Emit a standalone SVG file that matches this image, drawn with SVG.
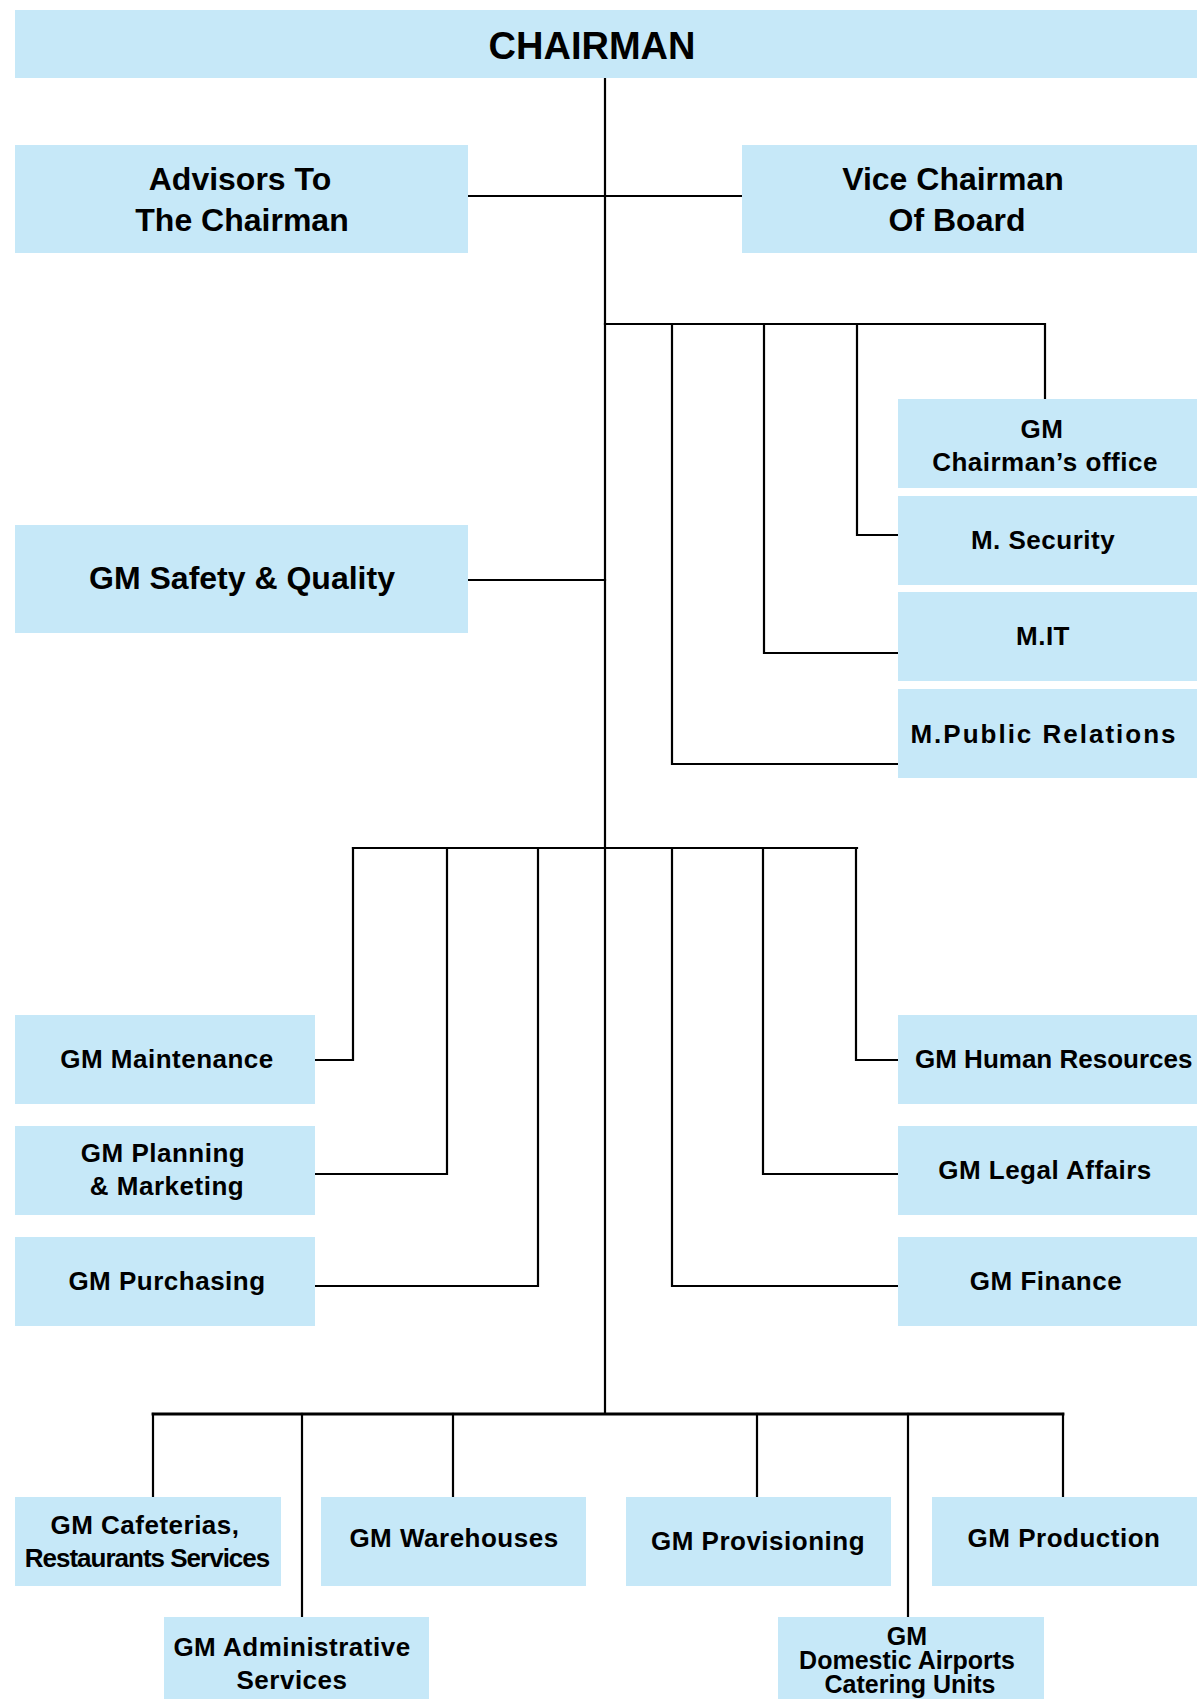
<svg xmlns="http://www.w3.org/2000/svg" width="1197" height="1699" viewBox="0 0 1197 1699">
<style>
.box{fill:#c6e8f8;}
.t{font-family:"Liberation Sans",Arial,sans-serif;font-weight:bold;fill:#000;text-anchor:middle;}
.big{font-size:32px;}
.md{font-size:26px;letter-spacing:0.5px;}
.ln{stroke:#000;stroke-width:2.2;fill:none;stroke-linecap:square;}
</style>
<rect width="1197" height="1699" fill="#fff"/>
<g id="connectors" class="ln">
<line x1="605" y1="78" x2="605" y2="1414"/>
<line x1="468" y1="196" x2="742" y2="196"/>
<line x1="468" y1="580" x2="605" y2="580"/>
<polyline points="605,324 1045,324 1045,399"/>
<polyline points="857,324 857,535 898,535"/>
<polyline points="764,324 764,653 898,653"/>
<polyline points="672,324 672,764 898,764"/>
<line x1="353" y1="848" x2="857" y2="848"/>
<polyline points="315,1060 353,1060 353,848"/>
<polyline points="315,1174 447,1174 447,848"/>
<polyline points="315,1286 538,1286 538,848"/>
<polyline points="898,1060 856,1060 856,848"/>
<polyline points="898,1174 763,1174 763,848"/>
<polyline points="898,1286 672,1286 672,848"/>
<line x1="153" y1="1414" x2="1063" y2="1414" stroke-width="2.8"/>
<line x1="153" y1="1414" x2="153" y2="1497"/>
<line x1="302" y1="1414" x2="302" y2="1617"/>
<line x1="453" y1="1414" x2="453" y2="1497"/>
<line x1="757" y1="1414" x2="757" y2="1497"/>
<line x1="908" y1="1414" x2="908" y2="1617"/>
<line x1="1063" y1="1414" x2="1063" y2="1497"/>
</g>
<g id="chairman"><rect class="box" x="15" y="10" width="1182" height="68"/><text class="t" x="592" y="59" font-size="38">CHAIRMAN</text></g>
<g id="advisors"><rect class="box" x="15" y="145" width="453" height="108"/><text class="t big" x="240" y="190">Advisors To</text><text class="t big" x="242" y="231">The Chairman</text></g>
<g id="vice-chairman"><rect class="box" x="742" y="145" width="455" height="108"/><text class="t big" x="953" y="190">Vice Chairman</text><text class="t big" x="957" y="231">Of Board</text></g>
<g id="gm-chairmans-office"><rect class="box" x="898" y="399" width="299" height="89"/><text class="t md" x="1042" y="438">GM</text><text class="t md" x="1045" y="471">Chairman’s office</text></g>
<g id="m-security"><rect class="box" x="898" y="496" width="299" height="89"/><text class="t md" x="1043" y="549">M. Security</text></g>
<g id="m-it"><rect class="box" x="898" y="592" width="299" height="89"/><text class="t md" x="1043" y="645">M.IT</text></g>
<g id="m-public-relations"><rect class="box" x="898" y="689" width="299" height="89"/><text class="t md" x="1044" y="743" style="letter-spacing:2px">M.Public Relations</text></g>
<g id="gm-safety-quality"><rect class="box" x="15" y="525" width="453" height="108"/><text class="t big" x="242" y="589">GM Safety &amp; Quality</text></g>
<g id="gm-maintenance"><rect class="box" x="15" y="1015" width="300" height="89"/><text class="t md" x="167" y="1068">GM Maintenance</text></g>
<g id="gm-planning-marketing"><rect class="box" x="15" y="1126" width="300" height="89"/><text class="t md" x="163" y="1162">GM Planning</text><text class="t md" x="167" y="1195">&amp; Marketing</text></g>
<g id="gm-purchasing"><rect class="box" x="15" y="1237" width="300" height="89"/><text class="t md" x="167" y="1290">GM Purchasing</text></g>
<g id="gm-human-resources"><rect class="box" x="898" y="1015" width="299" height="89"/><text class="t" x="915" y="1068" font-size="26" style="text-anchor:start">GM Human Resources</text></g>
<g id="gm-legal-affairs"><rect class="box" x="898" y="1126" width="299" height="89"/><text class="t md" x="1045" y="1179">GM Legal Affairs</text></g>
<g id="gm-finance"><rect class="box" x="898" y="1237" width="299" height="89"/><text class="t md" x="1046" y="1290">GM Finance</text></g>
<g id="gm-cafeterias"><rect class="box" x="15" y="1497" width="266" height="89"/><text class="t md" x="145" y="1534">GM Cafeterias,</text><text class="t" x="147" y="1567" font-size="26" style="letter-spacing:-1px">Restaurants Services</text></g>
<g id="gm-warehouses"><rect class="box" x="321" y="1497" width="265" height="89"/><text class="t md" x="454" y="1547">GM Warehouses</text></g>
<g id="gm-provisioning"><rect class="box" x="626" y="1497" width="265" height="89"/><text class="t md" x="758" y="1550">GM Provisioning</text></g>
<g id="gm-production"><rect class="box" x="932" y="1497" width="265" height="89"/><text class="t md" x="1064" y="1547">GM Production</text></g>
<g id="gm-administrative-services"><rect class="box" x="164" y="1617" width="265" height="82"/><text class="t md" x="292" y="1656">GM Administrative</text><text class="t md" x="292" y="1689">Services</text></g>
<g id="gm-domestic-airports"><rect class="box" x="778" y="1617" width="266" height="82"/><text class="t" x="907" y="1645" font-size="25">GM</text><text class="t" x="907" y="1669" font-size="25">Domestic Airports</text><text class="t" x="910" y="1693" font-size="25">Catering Units</text></g>
</svg>
